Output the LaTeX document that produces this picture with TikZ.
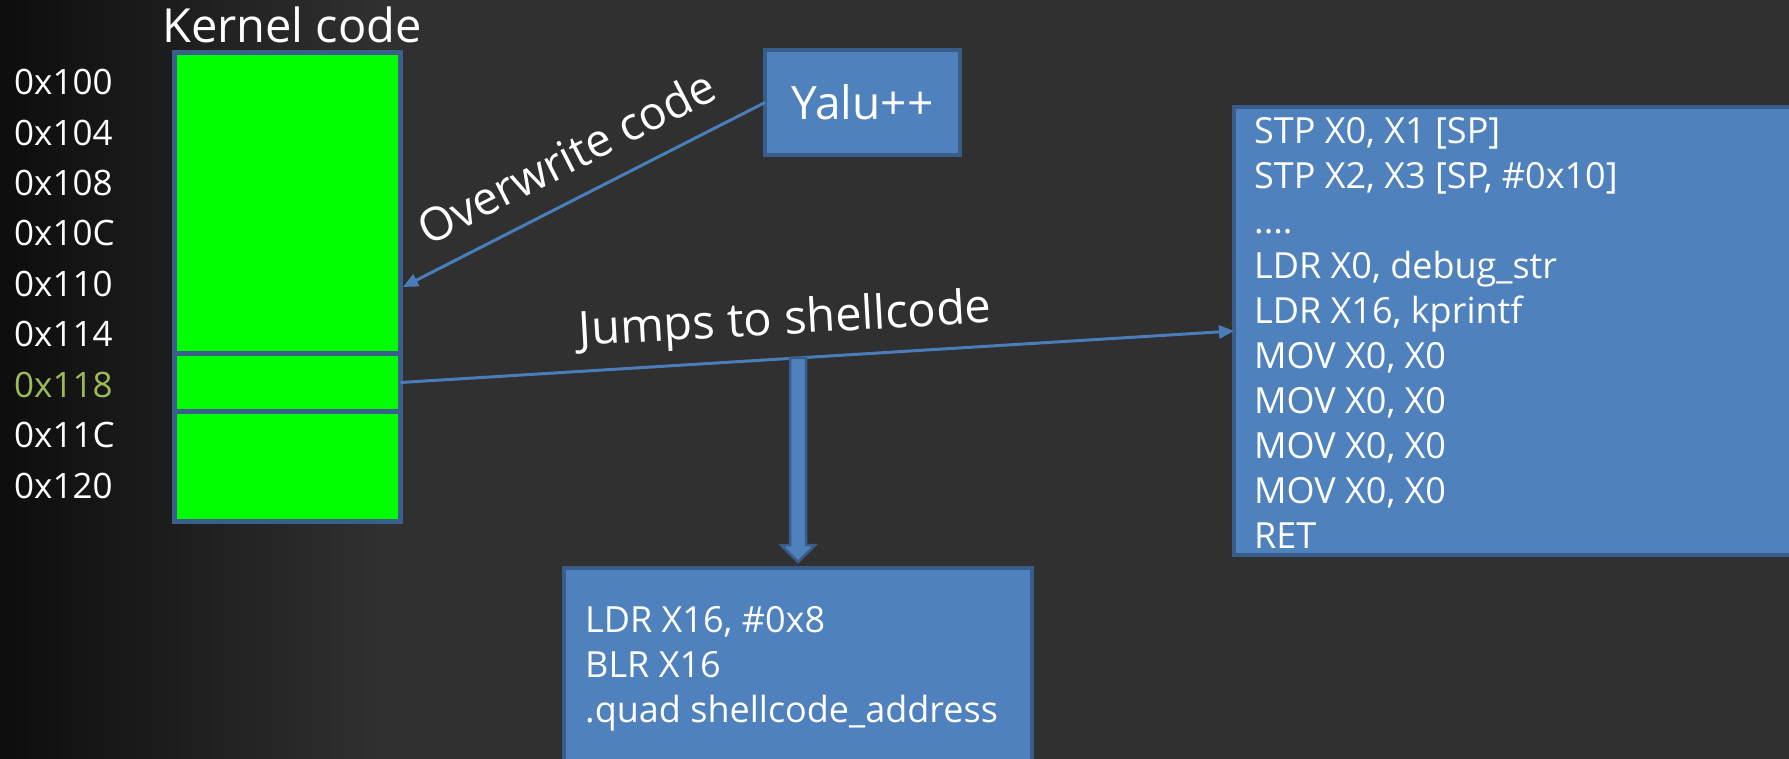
\documentclass[tikz,border=0pt]{standalone}
\usepackage{fontspec}
\setmainfont{Open Sans}
\usetikzlibrary{arrows.meta,calc}
\definecolor{bgmid}{HTML}{303030}
\definecolor{bgdark}{HTML}{0D0D0D}
\definecolor{boxfill}{HTML}{4F81BD}
\definecolor{boxline}{HTML}{385D8A}
\definecolor{conncol}{HTML}{4A7EBB}
\definecolor{kgreen}{HTML}{00FF00}
\definecolor{kline}{HTML}{3B5E8C}
\definecolor{olive}{HTML}{9BBB59}
\begin{document}
\begin{tikzpicture}[x=1pt,y=-1pt,
  seg/.style={draw=kline, fill=kgreen, line width=5pt, inner sep=0pt, outer sep=0pt, minimum width=226pt, anchor=north west},
  addr/.style={anchor=base west, text=white, font=\fontsize{35}{42}\selectfont, inner sep=0pt},
  lbl/.style={text=white, font=\fontsize{47}{56}\selectfont, inner sep=0pt, anchor=base},
  codebox/.style={draw=boxline, fill=boxfill, line width=4pt, inner sep=0pt, outer sep=0pt},
  codetext/.style={text=white, font=\fontsize{36}{45}\selectfont, align=left, anchor=base west, inner sep=0pt},
  connector/.style={draw=conncol, line width=3pt, -{Triangle[length=15pt,width=13pt]}},
]
\useasboundingbox (0,0) rectangle (1789,759);
\clip (0,0) rectangle (1789,759);
% background
\fill[bgmid] (0,0) rectangle (1789,759);
\shade[left color=bgdark, right color=bgmid] (0,0) rectangle (380,759);

% kernel code column
\node[lbl] (ktitle) at (292,43) {Kernel code};
\node[seg, minimum height=301.5pt] (ktop) at (174.5,52.5) {};
\node[seg, minimum height=57pt] (kmid) at (174.5,354) {};
\node[seg, minimum height=110.5pt] (kbot) at (174.5,411) {};

% addresses
\node[addr] (a100) at (14,95) {0x100};
\node[addr] (a104) at (14,145.5) {0x104};
\node[addr] (a108) at (14,196) {0x108};
\node[addr] (a10c) at (14,246) {0x10C};
\node[addr] (a110) at (14,296.5) {0x110};
\node[addr] (a114) at (14,347) {0x114};
\node[addr, text=olive] (a118) at (14,397) {0x118};
\node[addr] (a11c) at (14,447.5) {0x11C};
\node[addr] (a120) at (14,498) {0x120};

% Yalu++ box
\node[codebox, minimum width=195pt, minimum height=105pt, text=white, font=\fontsize{46}{55}\selectfont] (yalu) at (862.5,102.5) {Yalu++};

% right code box (base anchor = last line)
\node[codebox, anchor=north west, minimum width=616pt, minimum height=448pt] (rbox) at (1234,107) {};
\node[codetext] (rtext) at (1254,548) {STP X0, X1 [SP]\\STP X2, X3 [SP, \#0x10]\\....\\LDR X0, debug\_str\\LDR X16, kprintf\\MOV X0, X0\\MOV X0, X0\\MOV X0, X0\\MOV X0, X0\\RET};

% bottom code box
\node[codebox, anchor=north west, minimum width=468pt, minimum height=250pt] (bbox) at (564,568) {};
\node[codetext] (btext) at (585,722) {LDR X16, \#0x8\\BLR X16\\.quad shellcode\_address};

% overwrite connector
\coordinate (owtip) at (403,287);
\draw[connector] (yalu.west) -- (owtip);
\node[lbl, rotate=27, font=\fontsize{46}{55}\selectfont] (owlbl) at (574,172) {Overwrite code};

% jump connector
\draw[connector] (kmid.east) -- (rbox.west);
\node[lbl, rotate=3.2] (jlbl) at (786,334) {Jumps to shellcode};

% block arrow down to the bottom box
\path (bbox.north) ++(0,-6) coordinate (batip);
\filldraw[fill=boxfill, draw=boxline, line width=2.5pt, line join=miter]
  (batip) -- ++(17,-17) -- ++(-9,0) -- ++(0,-187) -- ++(-16,0) -- ++(0,187) -- ++(-9,0) -- cycle;
\end{tikzpicture}
\end{document}
